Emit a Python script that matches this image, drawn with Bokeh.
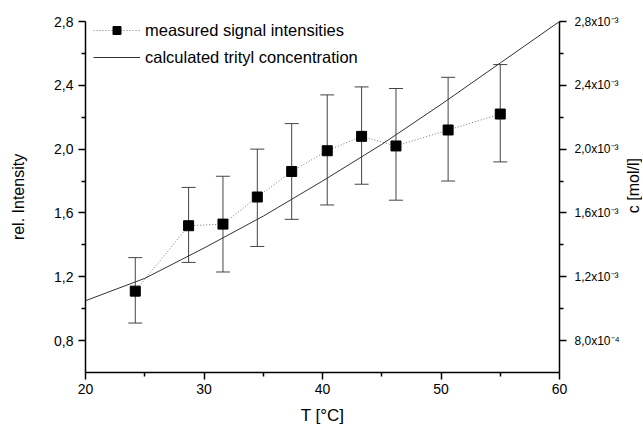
from bokeh.plotting import figure
from bokeh.layouts import row
from bokeh.models import (Range1d, LinearAxis, FixedTicker, CustomJSTickFormatter,
                          Whisker, TeeHead, ColumnDataSource, Legend, LegendItem, Div)
from bokeh.embed import file_html
from bokeh.resources import INLINE

# measured data
temp = [24.2, 28.7, 31.6, 34.5, 37.4, 40.4, 43.3, 46.2, 50.6, 55.0]
intensity = [1.11, 1.52, 1.53, 1.70, 1.86, 1.99, 2.08, 2.02, 2.12, 2.22]
err_upper = [1.32, 1.76, 1.83, 2.00, 2.16, 2.34, 2.39, 2.38, 2.45, 2.53]
err_lower = [0.91, 1.29, 1.23, 1.39, 1.56, 1.65, 1.78, 1.68, 1.80, 1.92]

# calculated trityl concentration (mol/l)
calc_T = [20, 25, 30, 35, 40, 45, 50, 55, 60]
calc_c = [1.05e-3, 1.19e-3, 1.38e-3, 1.58e-3, 1.80e-3, 2.03e-3, 2.28e-3, 2.54e-3, 2.80e-3]

x_major = [20, 30, 40, 50, 60]
x_minor = [25, 35, 45, 55]
y_major = [0.8, 1.2, 1.6, 2.0, 2.4, 2.8]
y_minor = [1.0, 1.4, 1.8, 2.2, 2.6]
c_major = [8.0e-4, 1.2e-3, 1.6e-3, 2.0e-3, 2.4e-3, 2.8e-3]
c_minor = [1.0e-3, 1.4e-3, 1.8e-3, 2.2e-3, 2.6e-3]

FONT = "Liberation Sans"

p = figure(width=625, height=427, x_range=Range1d(20, 60), y_range=Range1d(0.6, 2.8),
           output_backend="svg", toolbar_location=None,
           min_border_left=85, min_border_right=66, min_border_top=21, min_border_bottom=55)
p.extra_y_ranges = {"conc": Range1d(0.6e-3, 2.8e-3)}
p.grid.visible = False
p.outline_line_color = None
p.background_fill_color = "white"
p.border_fill_color = "white"

src = ColumnDataSource(dict(x=temp, y=intensity, upper=err_upper, lower=err_lower))

w = Whisker(base="x", upper="upper", lower="lower", source=src,
            line_color="#444444", line_width=1, level="underlay",
            upper_head=TeeHead(size=14, line_color="#444444", line_width=1),
            lower_head=TeeHead(size=14, line_color="#444444", line_width=1))
p.add_layout(w)

dot = p.line("x", "y", source=src, line_color="#777777", line_dash="1 2", line_width=1)
sq = p.scatter("x", "y", source=src, marker="square", size=10, fill_color="black", line_color="black")
calc = p.line(calc_T, calc_c, y_range_name="conc", line_color="#333333", line_width=1)

# axes
def style(ax, tick_size="14px", title_size="17px"):
    ax.axis_line_width = 1.5
    ax.axis_line_color = "black"
    ax.major_tick_line_color = "black"
    ax.minor_tick_line_color = "black"
    ax.major_tick_line_width = 1.5
    ax.minor_tick_line_width = 1.5
    ax.major_tick_in = 0
    ax.major_tick_out = 7
    ax.minor_tick_in = 0
    ax.minor_tick_out = 4
    ax.major_label_text_font = FONT
    ax.major_label_text_font_size = tick_size
    ax.major_label_text_color = "black"
    ax.axis_label_text_font = FONT
    ax.axis_label_text_font_size = title_size
    ax.axis_label_text_font_style = "normal"
    ax.axis_label_text_color = "black"

xa = p.xaxis[0]
style(xa)
xa.ticker = FixedTicker(ticks=x_major, minor_ticks=x_minor)
xa.axis_label = "T [°C]"
xa.major_label_standoff = 4
xa.axis_label_standoff = 9

ya = p.yaxis[0]
style(ya, title_size="16px")
ya.ticker = FixedTicker(ticks=y_major, minor_ticks=y_minor)
ya.formatter = CustomJSTickFormatter(code="return tick.toFixed(1).replace('.', ',');")
ya.axis_label = "rel. Intensity"
ya.major_label_standoff = 5
ya.axis_label_standoff = 24

ra = LinearAxis(y_range_name="conc")
style(ra, tick_size="12px", title_size="16px")
ra.ticker = FixedTicker(ticks=c_major, minor_ticks=c_minor)
ra.formatter = CustomJSTickFormatter(code="""
const e = Math.floor(Math.log10(tick) + 1e-9);
const m = tick / Math.pow(10, e);
const sup = {'-': '\u207b', '0': '\u2070', '1': '\u00b9', '2': '\u00b2', '3': '\u00b3',
             '4': '\u2074', '5': '\u2075', '6': '\u2076', '7': '\u2077', '8': '\u2078', '9': '\u2079'};
return m.toFixed(1).replace('.', ',') + 'x10' + String(e).split('').map(c => sup[c]).join('');
""")
ra.major_label_standoff = 8
p.add_layout(ra, "right")

legend = Legend(items=[
    LegendItem(label="measured signal intensities", renderers=[dot, sq]),
    LegendItem(label="calculated trityl concentration", renderers=[calc]),
], location=(8, 305))
legend.background_fill_alpha = 0
legend.border_line_color = None
legend.padding = 0
legend.margin = 0
legend.spacing = 7
legend.glyph_width = 47
legend.glyph_height = 20
legend.label_height = 20
legend.label_standoff = 5
legend.label_text_font = FONT
legend.label_text_font_size = "16.5px"
legend.label_text_color = "black"
p.add_layout(legend)

# right axis title, reading bottom to top as in the original
right_title = Div(
    text=('<div style="writing-mode: vertical-rl; transform: rotate(180deg); '
          'font-family: \'Liberation Sans\'; font-size: 16px; color: black; '
          'margin-top: 158px; line-height: 18px; white-space: nowrap;">c [mol/l]</div>'),
    width=18, height=427, margin=0)

layout = row(p, right_title, spacing=0)
open("out.html", "w").write(file_html(layout, INLINE))
